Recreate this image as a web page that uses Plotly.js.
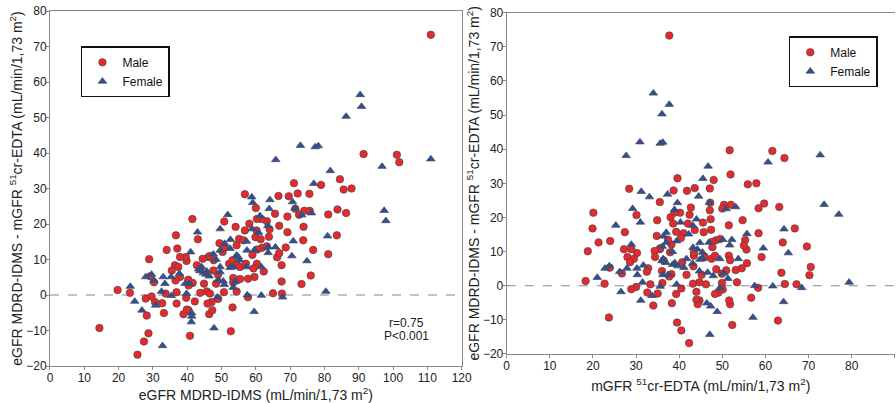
<!DOCTYPE html>
<html>
<head>
<meta charset="utf-8">
<script src="https://cdn.plot.ly/plotly-3.0.1.min.js"></script>
<style>html,body{margin:0;padding:0;background:#fff;}#chart{width:896px;height:403px;}</style>
</head>
<body>
<div id="chart"></div>
<script>
// Male: eGFR MDRD-IDMS and difference (eGFR - mGFR)
const egfrMale = [111.0,91.4,101.1,101.8,79.0,84.5,85.6,87.9,71.1,72.2,75.6,69.6,66.6,56.8,81.1,83.8,86.3,74.1,75.7,72.6,71.5,69.2,65.6,60.0,83.6,73.9,73.8,69.2,66.8,81.1,76.7,76.0,73.3,68.7,67.5,67.5,67.6,65.0,66.2,66.8,63.2,64.0,63.8,61.6,60.3,60.2,59.9,58.1,61.4,61.8,60.4,63.2,62.3,60.3,59.3,59.6,59.0,56.8,55.1,56.4,54.1,54.4,50.8,49.4,50.3,50.9,52.2,53.2,54.4,55.4,57.1,57.7,55.4,53.4,54.4,53.4,57.7,53.2,52.7,50.7,48.4,49.0,47.6,47.7,46.2,46.6,44.5,43.8,42.8,44.9,45.7,43.8,46.6,47.1,49.0,45.9,46.4,47.3,40.4,40.8,42.2,41.6,40.3,40.4,39.7,38.9,39.9,39.8,41.5,43.1,39.6,37.9,37.1,36.7,36.4,37.4,35.5,37.9,36.6,36.9,36.9,34.0,33.7,33.2,32.7,30.6,30.3,29.6,28.9,29.2,27.9,28.2,28.7,27.4,25.5,23.3,19.7,14.4];
const diffMale = [73.3,39.7,39.5,37.4,31.0,32.6,29.7,30.0,31.5,28.6,28.5,27.8,27.9,28.4,22.7,24.1,23.1,23.7,23.7,22.6,24.3,22.1,22.9,24.5,16.8,19.2,15.4,17.7,19.5,11.5,12.7,5.5,3.1,13.4,8.4,3.8,0.4,0.5,10.6,11.8,20.8,18.5,16.4,21.4,21.4,18.2,16.3,20.1,15.7,13.3,12.8,13.7,6.6,8.8,7.5,5.1,11.3,18.2,15.8,15.4,19.2,14.0,20.7,14.6,12.1,13.5,8.8,9.8,8.5,7.9,8.8,4.6,4.5,4.8,1.0,3.5,-0.6,-3.5,-10.2,0.8,3.2,5.7,6.9,9.8,10.7,11.0,10.2,7.4,8.4,3.2,1.0,0.6,0.4,-2.0,-1.1,-2.4,-5.4,-4.3,-4.3,-11.5,-1.8,3.4,4.3,2.7,-0.8,-5.4,-4.1,9.6,21.4,15.7,10.7,10.7,13.1,16.8,8.4,7.9,6.9,5.1,4.1,0.8,-2.4,12.7,0.4,-5.1,-2.3,-2.0,3.6,-0.4,10.1,5.3,-1.0,-5.8,-10.8,-13.1,-16.8,0.6,1.4,-9.3];
// Female
const egfrFemale = [90.4,90.8,86.3,73.0,77.3,78.2,65.8,111.0,96.8,81.7,76.9,97.4,97.9,80.9,80.4,74.9,70.5,70.9,70.7,71.4,73.4,76.2,64.1,63.9,63.5,61.2,58.8,59.1,51.8,49.6,52.6,57.3,58.9,60.8,63.6,65.7,63.6,59.6,57.4,54.4,54.9,55.2,57.3,61.6,61.6,59.5,57.5,67.8,50.9,52.5,53.4,52.5,49.6,48.4,47.6,49.6,49.6,49.0,50.5,50.8,53.4,54.0,46.4,45.7,45.5,44.7,43.7,44.2,43.0,43.3,41.0,40.6,39.4,39.8,41.3,41.3,41.2,47.8,48.8,32.8,37.7,35.3,33.0,33.5,32.5,35.4,30.3,30.8,29.6,27.9,26.8,24.7,23.4];
const diffFemale = [56.4,53.1,50.3,42.1,41.7,42.0,38.1,38.3,36.2,35.0,31.4,23.8,20.9,16.6,1.0,9.6,11.0,15.2,26.2,24.4,22.5,23.1,26.8,24.3,19.5,22.3,27.6,26.0,22.6,18.6,15.6,15.1,18.6,17.6,13.5,13.5,11.9,12.7,12.6,11.2,10.7,9.8,7.9,7.9,-0.1,-4.7,0.0,-0.6,14.5,13.1,7.9,7.7,12.6,10.0,11.5,7.9,6.5,4.3,3.9,2.9,2.1,3.7,5.3,6.7,5.8,6.2,6.8,7.9,17.7,7.3,12.1,3.2,3.2,0.4,-5.1,-6.0,-7.6,-9.3,-0.6,-14.3,6.0,5.1,5.1,3.2,1.0,-0.2,4.1,-2.9,5.8,5.1,-4.3,-1.8,2.4];
// mGFR 51Cr-EDTA = eGFR - difference (definition of the plotted difference)
const mgfrMale = egfrMale.map((v, i) => Math.round((v - diffMale[i]) * 10) / 10);
const mgfrFemale = egfrFemale.map((v, i) => Math.round((v - diffFemale[i]) * 10) / 10);

const seriesNames = ['Male', 'Female'];
const statLines = ['r=0.75', 'P&lt;0.001'];

const FONT = 'Liberation Sans, Arial, Helvetica, sans-serif';
const RED = '#e8282c', BLUE = '#2d4f9e', EDGE = '#4a4a4a';
const maleMarker = {symbol: 'circle', size: 7.5, color: RED, line: {color: EDGE, width: 0.7}};
const femaleMarker = {symbol: 'triangle-up', size: 7.5, color: BLUE, line: {color: EDGE, width: 0.7}};

const traces = [
  {type: 'scatter', mode: 'markers', name: seriesNames[0], x: egfrMale, y: diffMale, xaxis: 'x', yaxis: 'y', marker: maleMarker, legend: 'legend'},
  {type: 'scatter', mode: 'markers', name: seriesNames[1], x: egfrFemale, y: diffFemale, xaxis: 'x', yaxis: 'y', marker: femaleMarker, legend: 'legend'},
  {type: 'scatter', mode: 'markers', name: seriesNames[0], x: mgfrMale, y: diffMale, xaxis: 'x2', yaxis: 'y2', marker: maleMarker, legend: 'legend2'},
  {type: 'scatter', mode: 'markers', name: seriesNames[1], x: mgfrFemale, y: diffFemale, xaxis: 'x2', yaxis: 'y2', marker: femaleMarker, legend: 'legend2'}
];

const axisCommon = {
  showline: true, linecolor: '#8a8a8a', linewidth: 1,
  ticks: 'outside', ticklen: 3, tickcolor: '#8a8a8a', tickwidth: 1,
  showgrid: false, zeroline: false, dtick: 10, automargin: true,
  tickfont: {family: FONT, size: 12, color: '#222'}
};
const xAxisCommon = Object.assign({}, axisCommon, {ticklabelstandoff: -2});
const yAxisCommon = Object.assign({}, axisCommon, {ticklabelstandoff: -3});
const yTitle = 'eGFR MDRD-IDMS - mGFR <sup>51</sup>cr-EDTA (mL/min/1,73 m<sup>2</sup>)';
const titleFont = {family: FONT, size: 14, color: '#222'};

const legendCommon = {
  bgcolor: '#fff', bordercolor: '#111', borderwidth: 1.5,
  font: {family: FONT, size: 12, color: '#111'},
  yanchor: 'top', itemwidth: 30, tracegroupgap: 0
};

const layout = {
  width: 896, height: 403,
  margin: {l: 0, r: 0, t: 0, b: 0, autoexpand: false},
  paper_bgcolor: '#fff', plot_bgcolor: '#fff',
  font: {family: FONT, color: '#222'},
  showlegend: true,
  xaxis: Object.assign({}, xAxisCommon, {
    domain: [0.0558, 0.5153], range: [0, 120], anchor: 'y', mirror: true,
    title: {text: 'eGFR MDRD-IDMS (mL/min/1,73 m<sup>2</sup>)', font: titleFont, standoff: 0}
  }),
  yaxis: Object.assign({}, yAxisCommon, {
    domain: [0.0918, 0.9727], range: [-20, 80], anchor: 'x', mirror: true,
    title: {text: yTitle, font: titleFont, standoff: 0}
  }),
  xaxis2: Object.assign({}, xAxisCommon, {
    domain: [0.5655, 0.9987], range: [0, 90], anchor: 'y2', mirror: true,
    title: {text: 'mGFR <sup>51</sup>cr-EDTA (mL/min/1,73 m<sup>2</sup>)', font: titleFont, standoff: 8}
  }),
  yaxis2: Object.assign({}, yAxisCommon, {
    domain: [0.1216, 0.9685], range: [-20, 80], anchor: 'x2', mirror: false,
    title: {text: yTitle, font: titleFont, standoff: 0}
  }),
  legend: Object.assign({}, legendCommon, {x: 0.14, xanchor: 'center', y: 0.885}),
  legend2: Object.assign({}, legendCommon, {x: 0.93, xanchor: 'center', y: 0.91}),
  shapes: [
    {type: 'line', xref: 'x domain', yref: 'y', x0: 0, x1: 1, y0: 0, y1: 0, line: {color: '#888', width: 1.2, dash: 'dash'}, layer: 'below'},
    {type: 'line', xref: 'x2 domain', yref: 'y2', x0: 0, x1: 1, y0: 0, y1: 0, line: {color: '#888', width: 1.2, dash: 'dash'}, layer: 'below'}
  ],
  annotations: [
    {xref: 'x', yref: 'y', x: 104, y: -7.8, text: statLines[0], showarrow: false, font: {family: FONT, size: 12, color: '#222'}},
    {xref: 'x', yref: 'y', x: 104, y: -11.5, text: statLines[1], showarrow: false, font: {family: FONT, size: 12, color: '#222'}}
  ]
};

Plotly.newPlot('chart', traces, layout, {staticPlot: true, displayModeBar: false});
</script>
</body>
</html>
